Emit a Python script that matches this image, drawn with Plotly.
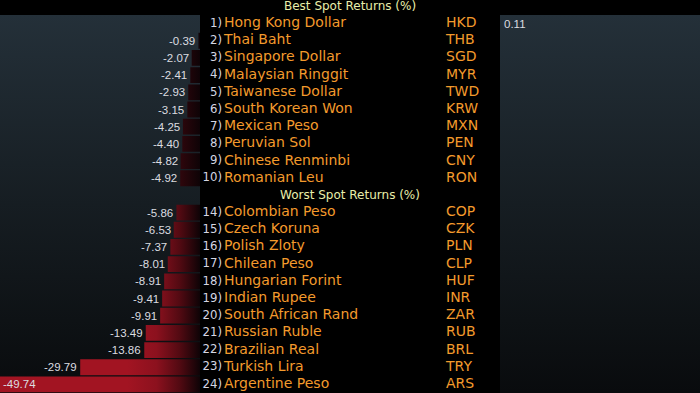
import plotly.graph_objects as go

# ---------------- data ----------------
best_rank = [1, 2, 3, 4, 5, 6, 7, 8, 9, 10]
best_names = ["Hong Kong Dollar", "Thai Baht", "Singapore Dollar", "Malaysian Ringgit",
              "Taiwanese Dollar", "South Korean Won", "Mexican Peso", "Peruvian Sol",
              "Chinese Renminbi", "Romanian Leu"]
best_codes = ["HKD", "THB", "SGD", "MYR", "TWD", "KRW", "MXN", "PEN", "CNY", "RON"]
best_values = [0.11, -0.39, -2.07, -2.41, -2.93, -3.15, -4.25, -4.40, -4.82, -4.92]

worst_rank = [14, 15, 16, 17, 18, 19, 20, 21, 22, 23, 24]
worst_names = ["Colombian Peso", "Czech Koruna", "Polish Zloty", "Chilean Peso",
               "Hungarian Forint", "Indian Rupee", "South African Rand", "Russian Ruble",
               "Brazilian Real", "Turkish Lira", "Argentine Peso"]
worst_codes = ["COP", "CZK", "PLN", "CLP", "HUF", "INR", "ZAR", "RUB", "BRL", "TRY", "ARS"]
worst_values = [-5.86, -6.53, -7.37, -8.01, -8.91, -9.41, -9.91, -13.49, -13.86, -29.79, -49.74]

best_title = "Best Spot Returns (%)"
worst_title = "Worst Spot Returns (%)"

# ---------------- layout helpers ----------------
best_rows = list(range(len(best_values)))
header_row = len(best_values)
worst_rows = [header_row + 1 + i for i in range(len(worst_values))]
n_rows = worst_rows[-1] + 1

all_values = best_values + worst_values
all_rows = best_rows + worst_rows
left_min = min(all_values)
right_max = 20

W, H = 700, 393
left_dom = [0, 200 / W]
mid_dom = [200 / W, 500 / W]
right_dom = [500 / W, 1]

VAL_FONT = "Liberation Sans, Arial, sans-serif"
RANK_FONT = "DejaVu Sans Condensed, Liberation Sans, sans-serif"
TXT_FONT = "DejaVu Sans, Verdana, sans-serif"
ORANGE = "#f39a2c"
WHITE = "#dcdde0"
TITLE_C = "#e9eeaa"

fig = go.Figure()

# panel backgrounds (vertical gradient)
bg_scale = [[0, "rgb(36,48,57)"], [0.5, "rgb(22,29,34)"], [1, "rgb(9,11,13)"]]
for xa, (x0, x1) in (("x", (left_min, 0)), ("x2", (0, right_max))):
    fig.add_trace(go.Scatter(
        x=[x0, x1, x1, x0, x0], y=[-0.5, -0.5, n_rows - 0.5, n_rows - 0.5, -0.5],
        xaxis=xa, yaxis="y", mode="none", fill="toself",
        fillgradient=dict(type="vertical", colorscale=bg_scale, start=-0.5, stop=n_rows - 0.5),
        hoverinfo="skip", showlegend=False))


def bar_polys(values, rows, half=0.46):
    xs, ys = [], []
    for v, r in zip(values, rows):
        xs += [v, 0, 0, v, v, None]
        ys += [r - half, r - half, r + half, r + half, r - half, None]
    return xs, ys


# negative bars (left panel), best section darker
neg_best = [(v, r) for v, r in zip(best_values, best_rows) if v < 0]
bx, by = bar_polys([v for v, _ in neg_best], [r for _, r in neg_best])
fig.add_trace(go.Scatter(
    x=bx, y=by, xaxis="x", yaxis="y", mode="none", fill="toself",
    fillgradient=dict(type="horizontal", start=-18, stop=0,
                      colorscale=[[0, "rgb(120,14,26)"], [0.6, "rgb(62,8,15)"], [1, "rgb(14,3,6)"]]),
    hoverinfo="skip", showlegend=False))

wx, wy = bar_polys(worst_values, worst_rows)
fig.add_trace(go.Scatter(
    x=wx, y=wy, xaxis="x", yaxis="y", mode="none", fill="toself",
    fillgradient=dict(type="horizontal", start=-18, stop=0,
                      colorscale=[[0, "rgb(162,20,34)"], [0.4, "rgb(140,17,30)"],
                                  [0.72, "rgb(82,10,18)"], [1, "rgb(14,3,6)"]]),
    hoverinfo="skip", showlegend=False))

# positive bars (right panel)
pos = [(v, r) for v, r in zip(all_values, all_rows) if v > 0]
fig.add_trace(go.Bar(
    x=[v for v, _ in pos], y=[r for _, r in pos], orientation="h", base=0,
    xaxis="x2", yaxis="y", width=0.92, marker=dict(color="rgb(40,125,55)", line=dict(width=0)),
    hoverinfo="skip", showlegend=False))

# value labels (annotations anchored at bar ends)
annotations = []
for v, r in zip(all_values, all_rows):
    if v < 0:
        inside = (v == left_min)
        annotations.append(dict(
            x=v, y=r, xref="x", yref="y", text="%.2f" % v, showarrow=False,
            xanchor="left" if inside else "right", xshift=1 if inside else -1,
            font=dict(family=VAL_FONT, size=11.5, color=WHITE)))
    else:
        annotations.append(dict(
            x=v, y=r, xref="x2", yref="y", text="%.2f" % v, showarrow=False,
            xanchor="left", xshift=1, font=dict(family=VAL_FONT, size=11.5, color=WHITE)))

# middle table text
ranks = best_rank + worst_rank
names = best_names + worst_names
codes = best_codes + worst_codes
fig.add_trace(go.Scatter(
    x=[22] * len(ranks), y=all_rows, xaxis="x3", yaxis="y", mode="text",
    text=["%d)" % k for k in ranks], textposition="middle left",
    textfont=dict(family=RANK_FONT, size=13, color="#d4d6e2"), marker=dict(size=1),
    cliponaxis=False, hoverinfo="skip", showlegend=False))
fig.add_trace(go.Scatter(
    x=[24] * len(names), y=all_rows, xaxis="x3", yaxis="y", mode="text",
    text=names, textposition="middle right",
    textfont=dict(family=TXT_FONT, size=14, color=ORANGE), marker=dict(size=1),
    cliponaxis=False, hoverinfo="skip", showlegend=False))
fig.add_trace(go.Scatter(
    x=[246] * len(codes), y=all_rows, xaxis="x3", yaxis="y", mode="text",
    text=codes, textposition="middle right",
    textfont=dict(family=TXT_FONT, size=14, color=ORANGE), marker=dict(size=1),
    cliponaxis=False, hoverinfo="skip", showlegend=False))

row_h = 1.0 / n_rows
annotations += [
    dict(text=best_title, x=150, y=1 + 0.5 * row_h, xref="x3", yref="paper", showarrow=False,
         yanchor="middle", font=dict(family=TXT_FONT, size=12, color=TITLE_C)),
    dict(text=worst_title, x=150, y=1 - (header_row + 0.5) * row_h, xref="x3", yref="paper",
         showarrow=False, yanchor="middle", font=dict(family=TXT_FONT, size=12, color=TITLE_C)),
]

hidden = dict(showgrid=False, zeroline=False, showticklabels=False, ticks="", showline=False, fixedrange=True)
fig.update_layout(
    width=W, height=H,
    paper_bgcolor="black", plot_bgcolor="black",
    margin=dict(l=0, r=0, t=15, b=0),
    xaxis=dict(domain=left_dom, range=[left_min, 0], **hidden),
    xaxis2=dict(domain=right_dom, range=[0, right_max], anchor="y", **hidden),
    xaxis3=dict(domain=mid_dom, range=[0, 300], anchor="y", **hidden),
    yaxis=dict(range=[n_rows - 0.5, -0.5], **hidden),
    annotations=annotations,
    showlegend=False,
    bargap=0,
)

fig.write_html("out.html", config={"displayModeBar": False, "staticPlot": True})
with open("out.html", "r", encoding="utf-8") as f:
    html = f.read()
html = html.replace("<head>", "<head><style>html,body{margin:0;padding:0;background:#000;overflow:hidden}</style>", 1)
with open("out.html", "w", encoding="utf-8") as f:
    f.write(html)
